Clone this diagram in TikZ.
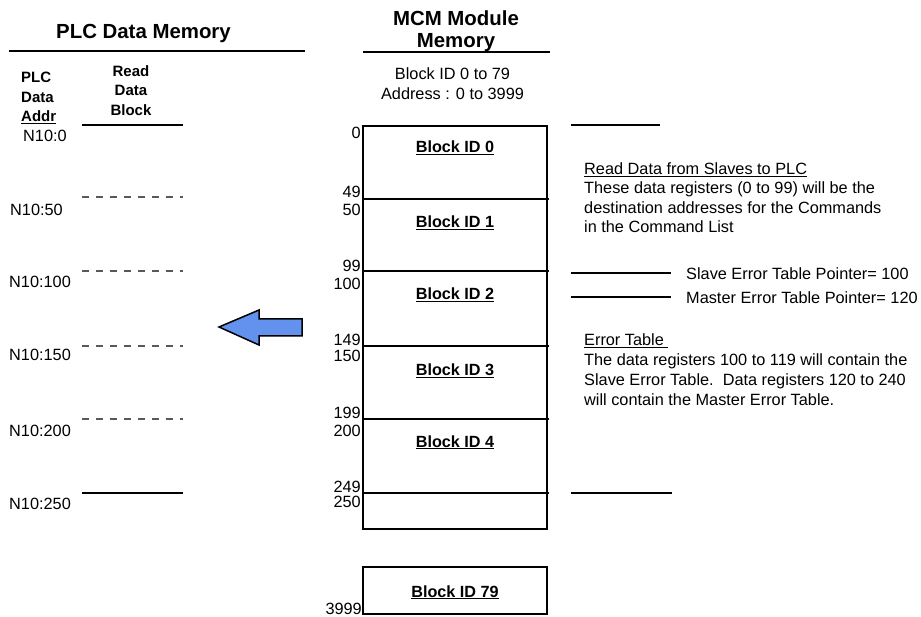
\documentclass[tikz,border=0pt]{standalone}
\usepackage{fontspec}
\setmainfont{Liberation Sans}
\usetikzlibrary{positioning}
\definecolor{arrowblue}{RGB}{98,146,238}

\begin{document}
\begin{tikzpicture}[x=1pt, y=-1pt,
  title/.style={font=\fontsize{20.4}{22}\selectfont\bfseries, inner sep=0pt, align=center},
  head/.style={font=\fontsize{15}{19.5}\selectfont\bfseries, inner sep=0pt},
  txt/.style={font=\fontsize{16.3}{19.5}\selectfont, inner sep=0pt},
  addr/.style={txt, anchor=base west},
  off/.style={txt, anchor=base east},
  blk/.style={font=\fontsize{16.2}{19.5}\selectfont\bfseries, inner sep=0pt, anchor=base},
  rule/.style={line width=1.6pt},
  sep/.style={line width=1.4pt, dash pattern=on 7pt off 7pt, black!65},
  mem/.style={line width=2.6pt}]
\useasboundingbox (0,0) rectangle (921,617);

% titles
\node[title, anchor=base] (plct) at (143.5,39) {PLC Data Memory};
\node[title, anchor=north] (mcmt) at (456,10.4) {MCM Module\\Memory};
\draw[rule] (9,51) -- (305,51);
\draw[rule] (363,52) -- (550,52);
\node[txt, align=center, anchor=north, font=\fontsize{16.3}{20}\selectfont] (range) at (452.5,67.3)
  {Block ID 0 to 79\\Address : 0 to 3999};

% PLC side
\node[head, align=left, anchor=north west] (plcaddr) at (21,72.3) {PLC\\Data\\\underline{Addr}};
\node[head, align=center, anchor=north] (rdblk) at (131,65.1) {Read\\Data\\Block};
\draw[mem] (82,125) -- (183,125);
\node[addr] (n0) at (23,142) {N10:0};
\draw[sep] (82,197) -- (183,197);
\node[addr] (n50) at (10,216) {N10:50};
\draw[sep] (82,271) -- (183,271);
\node[addr] (n100) at (9,288) {N10:100};
\draw[sep] (82,346) -- (183,346);
\node[addr] (n150) at (9,361) {N10:150};
\draw[sep] (82,419) -- (183,419);
\node[addr] (n200) at (9,436) {N10:200};
\draw[line width=2pt] (82,493) -- (183,493);
\node[addr] (n250) at (9,509) {N10:250};

% transfer arrow
\draw[line width=1.5pt, fill=arrowblue, line join=miter]
  (219,327) -- (259,310) -- (259,319) -- (302,319) -- (302,336)
  -- (259,336) -- (259,345) -- cycle;

% MCM memory
\draw[mem] (363,126) rectangle (547,529);
\draw[rule] (363,199) -- (549,199);
\draw[rule] (363,271) -- (549,271);
\draw[rule] (363,346) -- (549,346);
\draw[rule] (363,419) -- (549,419);
\draw[rule] (363,493) -- (549,493);
\node[blk] (b0) at (455,153) {\underline{Block ID 0}};
\node[blk] (b1) at (455,228) {\underline{Block ID 1}};
\node[blk] (b2) at (455,300) {\underline{Block ID 2}};
\node[blk] (b3) at (455,376) {\underline{Block ID 3}};
\node[blk] (b4) at (455,447) {\underline{Block ID 4}};
\draw[mem] (363,567) rectangle (547,614);
\node[blk] (b79) at (455,597) {\underline{Block ID 79}};

\node[off] (o0) at (361,139) {0};
\node[off] (o49) at (361,198) {49};
\node[off] (o50) at (361,216) {50};
\node[off] (o99) at (361,272) {99};
\node[off] (o100) at (361,290) {100};
\node[off] (o149) at (361,346) {149};
\node[off] (o150) at (361,362) {150};
\node[off] (o199) at (361,419) {199};
\node[off] (o200) at (361,436) {200};
\node[off] (o249) at (361,492) {249};
\node[off] (o250) at (361,507) {250};
\node[off] (o3999) at (362,614) {3999};

% notes on the right
\draw[rule] (571,125) -- (660,125);
\node[txt, align=left, anchor=north west] (rdnote) at (584,162.3)
  {\underline{Read Data from Slaves to PLC}\\These data registers (0 to 99) will be the\\destination addresses for the Commands\\in the Command List};
\draw[rule] (571,273) -- (671,273);
\node[addr] (slvptr) at (686,280) {Slave Error Table Pointer= 100};
\draw[rule] (571,297) -- (671,297);
\node[addr] (mstptr) at (686,304) {Master Error Table Pointer= 120};
\node[txt, align=left, anchor=north west, font=\fontsize{16.3}{19.8}\selectfont] (errnote) at (584,333.8)
  {\underline{Error Table\ }\\The data registers 100 to 119 will contain the\\Slave Error Table.\ \ Data registers 120 to 240\\will contain the Master Error Table.};
\draw[rule] (571,493) -- (672,493);
\end{tikzpicture}
\end{document}
